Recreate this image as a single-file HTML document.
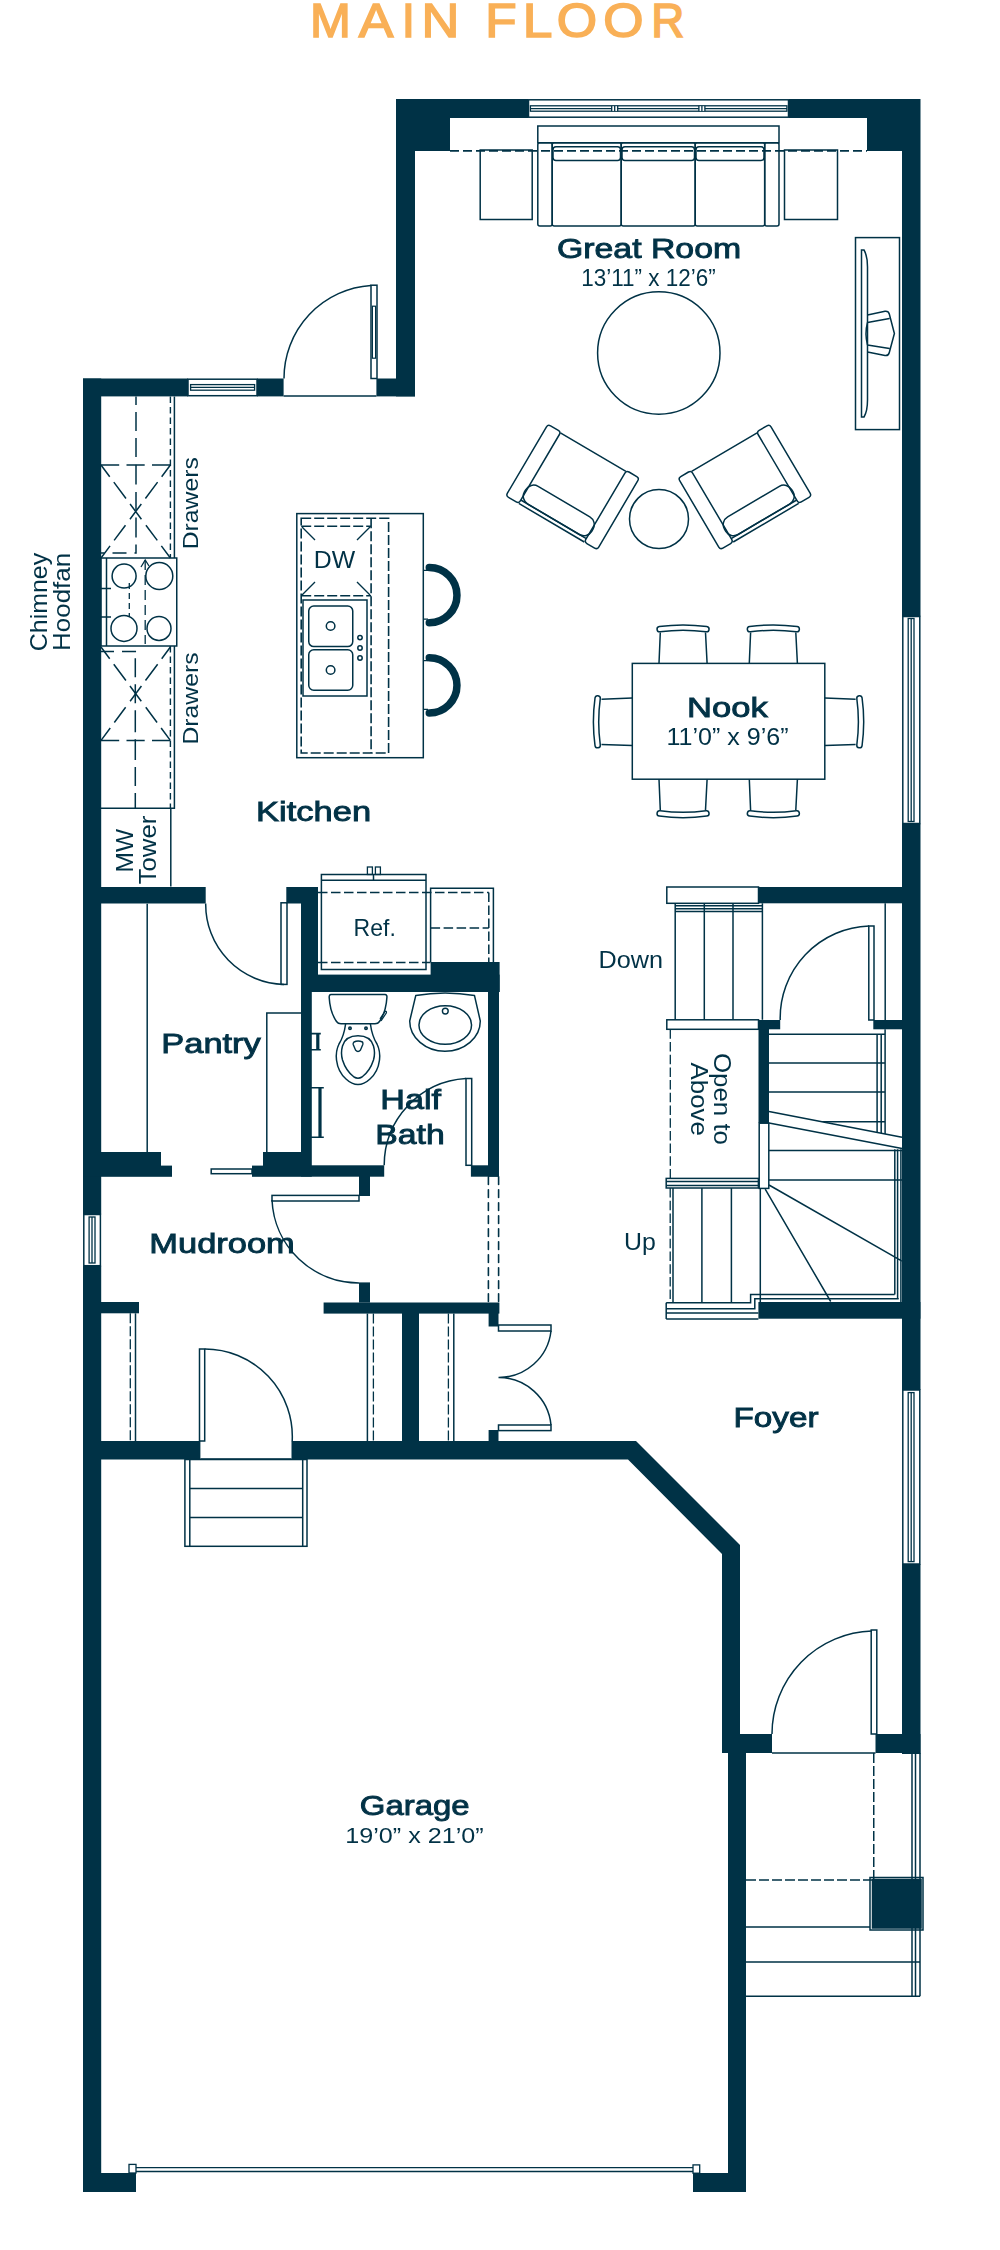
<!DOCTYPE html>
<html><head><meta charset="utf-8"><style>
html,body{margin:0;padding:0;background:#fff;width:1000px;height:2250px;overflow:hidden}
svg{display:block}
text{font-family:"Liberation Sans",sans-serif;fill:#003246}
.b{stroke:#003246;stroke-width:0.9}
.ttl text{fill:#f9b057}
</style></head><body>
<svg width="1000" height="2250" viewBox="0 0 1000 2250">
<g class="ttl" opacity="0.999" style="fill:#f9b057;stroke:#f9b057" stroke-width="1.6" font-size="49" text-anchor="middle"><text transform="translate(330.50,36.8) scale(1.000,1)">M</text><text transform="translate(376.00,36.8) scale(1.059,1)">A</text><text transform="translate(408.40,36.8) scale(0.972,1)">I</text><text transform="translate(440.50,36.8) scale(1.069,1)">N</text><text transform="translate(500.90,36.8) scale(1.048,1)">F</text><text transform="translate(537.50,36.8) scale(1.087,1)">L</text><text transform="translate(577.00,36.8) scale(1.059,1)">O</text><text transform="translate(623.50,36.8) scale(1.057,1)">O</text><text transform="translate(667.75,36.8) scale(0.936,1)">R</text></g>

<!-- WALLS -->
<g id="walls" fill="#003246">
<!-- great room top -->
<rect x="396" y="99" width="132" height="19"/>
<rect x="789" y="99" width="131" height="19"/>
<rect x="396" y="99" width="54" height="52"/>
<rect x="867" y="99" width="53" height="52"/>
<rect x="396" y="99" width="19" height="297.4"/>
<rect x="376.4" y="378.5" width="38.6" height="17.9"/>
<!-- kitchen top wall -->
<rect x="83" y="378.5" width="105" height="17.9"/>
<rect x="257" y="378.5" width="26.6" height="17.9"/>
<!-- left wall -->
<rect x="83" y="378.5" width="18.2" height="836"/>
<rect x="83" y="1265.7" width="18.2" height="926.3"/>
<!-- right wall -->
<rect x="902" y="99" width="18.5" height="517.5"/>
<rect x="902" y="823.5" width="18.5" height="566.5"/>
<rect x="902" y="1564" width="18.5" height="190"/>
<!-- kitchen / pantry wall -->
<rect x="83" y="887" width="122.7" height="16.5"/>
<rect x="286.3" y="887" width="31.7" height="16.5"/>
<rect x="301" y="887" width="17" height="105"/>
<rect x="301" y="974.6" width="198.6" height="17.4"/>
<rect x="430.6" y="962" width="69" height="30"/>
<!-- bath walls -->
<rect x="301" y="990" width="10.8" height="186.7"/>
<rect x="488" y="990" width="11" height="186.7"/>
<rect x="301" y="1165.3" width="83.2" height="11.4"/>
<rect x="470.9" y="1165.3" width="28.1" height="11.4"/>
<!-- pantry bottom -->
<rect x="83" y="1152" width="78" height="24.8"/>
<rect x="161" y="1165.6" width="11" height="11.2"/>
<rect x="263" y="1152" width="38" height="24.8"/>
<rect x="252" y="1165.6" width="11" height="11.2"/>
<!-- stubs -->
<rect x="359" y="1176" width="11" height="20"/>
<rect x="359" y="1282.4" width="11" height="20.2"/>
<!-- mudroom lower walls -->
<rect x="101" y="1302" width="38" height="11.3"/>
<rect x="323.6" y="1302.5" width="175.8" height="11.1"/>
<rect x="402" y="1313" width="17" height="128.5"/>
<rect x="488.6" y="1313" width="9.9" height="13.5"/>
<rect x="488.6" y="1430" width="9.9" height="11.5"/>
<!-- garage -->
<rect x="83" y="1441" width="117.4" height="18.5"/>
<polygon points="291.5,1441 636,1441 740,1545 740,1734 772,1734 772,1753 746,1753 746,2192 693,2192 693,2173 728,2173 728,1753 722,1753 722,1554 628,1459.5 291.5,1459.5"/>
<rect x="83" y="2173" width="53" height="19"/>
<rect x="875.5" y="1734" width="45" height="19"/>
<!-- stair walls -->
<rect x="758.5" y="887" width="144" height="16.3"/>
<rect x="758.5" y="1020" width="10.5" height="103"/>
<rect x="758.5" y="1020" width="21.7" height="9.3"/>
<rect x="873.3" y="1020" width="29" height="9.3"/>
<rect x="758.4" y="1302" width="162" height="16.7"/>
</g>

<g id="lines" fill="none" stroke="#003246" stroke-width="1.5">

<!-- great room top window -->
<rect x="528.5" y="99.8" width="260" height="17.4"/>
<rect x="530.4" y="105.8" width="256.5" height="5.4" stroke-width="1.3"/><path d="M530.4 108.6H787" stroke-width="1.3"/><rect x="611.7" y="106.4" width="6" height="4.4" fill="#fff" stroke="none"/><rect x="698.9" y="106.4" width="6" height="4.4" fill="#fff" stroke="none"/><path d="M611.7 105.8v5.4M614.7 105.8v5.4M617.7 105.8v5.4M698.9 105.8v5.4M701.9 105.8v5.4M704.9 105.8v5.4" stroke-width="1.3"/>

<!-- dashed line -->
<path d="M450 150.8H867" stroke-dasharray="9 4" stroke-width="1.8"/>
<!-- end tables -->
<rect x="480.2" y="150" width="52" height="69.5"/>
<rect x="784.5" y="150" width="53" height="69.5"/>
<!-- sofa -->
<rect x="537.8" y="126" width="241.2" height="16.8"/>
<rect x="537.8" y="142.8" width="14.4" height="83.2" rx="2"/>
<rect x="552.2" y="142.8" width="69" height="83.2" rx="2"/>
<rect x="621.2" y="142.8" width="74" height="83.2" rx="2"/>
<rect x="695.2" y="142.8" width="69.5" height="83.2" rx="2"/>
<rect x="764.7" y="142.8" width="14.3" height="83.2" rx="2"/>
<rect x="553" y="146.8" width="67.5" height="13.7" rx="3"/>
<rect x="622" y="146.8" width="72.5" height="13.7" rx="3"/>
<rect x="696" y="146.8" width="68" height="13.7" rx="3"/>
<!-- coffee table -->
<circle cx="658.8" cy="353" r="61.2"/>
<circle cx="659" cy="519" r="29.5"/>
<!-- TV console -->
<rect x="855.5" y="237.6" width="44" height="192"/>
<path d="M861.5 250V417H864C867 412 867.5 405 867.5 400V267C867.5 262 867 255 864 250Z"/>
<path d="M867.5 315L885 311.2Q888.5 310.8 889.3 314L894.4 333.5L889.3 352.5Q888.5 356 885 355.5L867.5 352M867.5 322.5L889.5 318.5M867.5 345L889.5 348.5M867.5 322.5Q864.5 333.5 867.5 345"/>
<!-- armchairs -->
<g id="chair" transform="translate(548,424.3) rotate(30.5)">
<rect x="0" y="0" width="15" height="83" rx="3"/>
<rect x="91" y="0" width="15" height="83" rx="3"/>
<path d="M15 1H91M15 83H91M15 79H91"/>
<rect x="14" y="58.5" width="78" height="20.5" rx="9"/>
</g>
<g transform="translate(1317.5,0) scale(-1,1)">
<g transform="translate(548,424.3) rotate(30.5)">
<rect x="0" y="0" width="15" height="83" rx="3"/>
<rect x="91" y="0" width="15" height="83" rx="3"/>
<path d="M15 1H91M15 83H91M15 79H91"/>
<rect x="14" y="58.5" width="78" height="20.5" rx="9"/>
</g></g>
<!-- great room ext door -->
<rect x="371" y="285.2" width="6" height="93.3"/>
<rect x="372.4" y="306.2" width="3.2" height="52" stroke-width="1.2"/>
<path d="M284 378.5A93 93 0 0 1 371 285.5"/>
<path d="M283.6 396H376.4"/>

<!-- kitchen upper counter -->
<path d="M174.4 396.4V558M174.4 646V808.3H101"/>
<path d="M170.4 396.4V558M170.4 646V808.3" stroke-dasharray="6.5 4" stroke-width="1.4"/>
<path d="M136 396.4V464.3" stroke-dasharray="19 7" stroke-dashoffset="10.4"/>
<path d="M136 465V553H101" stroke-dasharray="19.5 7.5 18 7.5 20 7 10 8 14 8 13"/>
<path d="M101 465H170.4" stroke-dasharray="18.2 7.3"/>
<path d="M101 465L170.4 558M170.4 465L101 558" stroke-dasharray="14.6 6.8 20.4 6.8 19 7.5 19 6.8 15.1"/>
<!-- stove -->
<rect x="101" y="558" width="75.75" height="88"/>
<path d="M106.5 558V646"/>
<circle cx="124.1" cy="576.1" r="12"/>
<circle cx="159.3" cy="576" r="13.5"/>
<circle cx="124" cy="628.4" r="13"/>
<circle cx="159" cy="628.4" r="12"/>
<path d="M129.3 583V617" stroke-dasharray="6 4" stroke-width="1.3"/><path d="M145.2 560V644" stroke-dasharray="10 5" stroke-width="1.3"/><path d="M141 567L145.2 560L149 566" stroke-width="1.3"/>
<path d="M101 588.5H111M101 617H111" stroke-width="1.3"/>
<!-- lower counter -->
<path d="M101 651.5H135.3V740" stroke-dasharray="13 8 14 6 19 7 19 7 22 7 20"/>
<path d="M135.3 741V808.3" stroke-dasharray="19 7" stroke-dashoffset="0"/>
<path d="M101 740.5H170.4" stroke-dasharray="18.2 7.3"/>
<path d="M101 647L170.4 740.5M170.4 647L101 740.5" stroke-dasharray="14.6 6.8 20.4 6.8 19 7.5 19 6.8 15.1"/>
<!-- MW tower -->
<path d="M170.8 808.3V886.4"/>
<!-- island -->
<rect x="296.8" y="513.6" width="126.5" height="244.1"/>
<rect x="301.2" y="518.3" width="87.4" height="234.7" stroke-dasharray="10 3" stroke-width="1.6"/>
<path d="M371.1 518.3V753M301.2 526.3H371.1M301.2 595.8H371.1" stroke-dasharray="10 3" stroke-width="1.6"/>
<path d="M302 527L315 540M370 527L357 540M302 595L315 582M370 595L357 582" stroke-width="1.4"/>
<rect x="303" y="600" width="64" height="96"/>
<rect x="308.75" y="606" width="44" height="40.6" rx="5"/>
<rect x="308.75" y="649.8" width="44" height="40.5" rx="5"/>
<circle cx="330.6" cy="626" r="4.3"/>
<circle cx="330.6" cy="670" r="4.3"/>
<circle cx="360" cy="637.6" r="2.2"/>
<circle cx="360" cy="648" r="2.2"/>
<circle cx="360" cy="658" r="2.2"/>
<!-- stools -->
<path d="M429.3 567.45A27.7 27.7 0 0 1 429.3 622.85M429.3 657.65A27.7 27.7 0 0 1 429.3 713.05" stroke-width="7.5" stroke-linecap="round"/>
<path d="M423 570.4H428M423 619.2H428M423 660.6H428M423 709.4H428" stroke-width="1.2"/>

<!-- fridge -->
<rect x="321.4" y="874.5" width="104.6" height="95"/>
<path d="M321.4 880.3H426M373.5 874.5V880.3"/>
<rect x="367.4" y="867" width="5" height="7.5" stroke-width="1.3"/>
<rect x="375.4" y="867" width="5" height="7.5" stroke-width="1.3"/>
<path d="M318 892.5H488.8M318 962.4H430.6M430.6 928H488.8M488.8 892.5V962" stroke-dasharray="9.5 3.5"/>
<path d="M430.6 962V888.3H493.4V962"/>
<!-- pantry -->
<rect x="281" y="902.8" width="6" height="81.6"/>
<path d="M205.7 903.5A80 80 0 0 0 284 984.4"/>
<path d="M147.2 903.8V1152"/>
<path d="M266.8 1152V1013H301"/>
<rect x="211.2" y="1169" width="40.8" height="4.7"/>
<!-- half bath -->
<rect x="466" y="1078.5" width="5.7" height="86.8"/>
<path d="M384.2 1165.3A87 87 0 0 1 466 1078.5"/>
<path d="M331 994.6H385Q387.2 994.6 386.9 997.5Q386 1012 379.5 1021.5Q378 1023.8 375 1023.8H341Q338 1023.8 336.5 1021.5Q330 1012 329.2 997.5Q329 994.6 331 994.6Z"/>
<path d="M381 1020.8L386.3 1013Q386.8 1011.2 385.3 1011.2L380 1018.8" stroke-width="1.3"/>
<path d="M345.6 1024Q344 1036 339 1044Q335.5 1051 336.5 1060Q338 1072 346 1079Q352 1084.6 358 1084.6Q364 1084.6 370 1079Q378 1072 379.5 1060Q380.5 1051 377 1044Q372 1036 370.4 1024"/>
<path d="M358 1035.8Q370.5 1035.8 373.5 1046Q375.5 1053 373.5 1060Q370 1071 362 1077Q358 1079.5 354 1077Q346 1071 342.5 1060Q340.5 1053 342.5 1046Q345.5 1035.8 358 1035.8Z"/>
<path d="M354 1042Q358 1040 362.5 1042Q363.2 1043 362.8 1044.5L360.5 1050Q358 1053 355.5 1050L353.2 1044.5Q352.8 1043 354 1042Z" stroke-width="1.4"/>
<circle cx="350" cy="1028.2" r="1.2" stroke-width="1.6"/>
<circle cx="366" cy="1028.2" r="1.2" stroke-width="1.6"/>
<path d="M415.75 995.6Q445 990.5 474.5 995.6L480.3 1021A35.3 30.2 0 0 1 409.7 1021Z"/>
<ellipse cx="445.25" cy="1025" rx="26.3" ry="19.35"/>
<circle cx="445.3" cy="1011.1" r="2.9" stroke-width="1.4"/>
<path d="M311 1033.6H320.8M311 1049.7H320.8M317.8 1033.6V1049.7M311 1087.8H323.8M311 1137.2H323.8M320 1087.8V1137.2" stroke-width="1.6"/><path d="M317.8 1034V1049.5M320 1088V1137" stroke-width="3.2"/>

<path d="M488.4 1176.7V1302.5M498.6 1176.7V1302.5" stroke-dasharray="7.7 5.3" stroke-width="1.6" stroke-linecap="round"/>
<!-- mudroom -->
<rect x="83.8" y="1214.5" width="16.6" height="51.2"/>
<rect x="89.1" y="1217" width="5.9" height="46" stroke-width="1.3"/><path d="M92 1217V1263" stroke-width="1.3"/>
<rect x="272" y="1195.4" width="87" height="5.6"/>
<path d="M272 1200A87 87 0 0 0 359 1283"/>
<path d="M135.5 1313.3V1441.2"/>
<path d="M130.3 1313.3V1441.2" stroke-dasharray="10 3" stroke-width="1.3"/>
<rect x="199.5" y="1349" width="5.2" height="92"/>
<path d="M204.7 1349A87.5 87.5 0 0 1 292.2 1441.2"/>
<path d="M200.4 1459H291.5"/>
<!-- closets -->
<path d="M367.4 1313.6V1441M453.8 1313.6V1441"/>
<path d="M373.4 1313.6V1441M448.4 1313.6V1441" stroke-dasharray="10 3" stroke-width="1.3"/>
<rect x="498.5" y="1325" width="52.5" height="6"/>
<rect x="498.5" y="1425" width="52.5" height="5.6"/>
<path d="M551 1331A52.5 52.5 0 0 1 498.5 1377.5A52.5 52.5 0 0 1 551 1425"/>
<!-- garage steps -->
<rect x="184.9" y="1459.5" width="122.1" height="86.8"/>
<path d="M189.8 1459.5V1546.3M302.7 1459.5V1546.3M189.8 1488.5H302.7M189.8 1517.6H302.7"/>
<!-- garage door -->
<rect x="129" y="2164.4" width="7" height="8.6" stroke-width="1.3"/>
<rect x="693" y="2164.9" width="6.7" height="8.3" stroke-width="1.3"/>
<path d="M136 2167.6H693M136 2171.5H693" stroke-width="1.3"/>
<!-- foyer -->
<rect x="871.2" y="1630" width="5.6" height="104"/>
<path d="M772 1734A103 103 0 0 1 872 1631"/>
<path d="M772 1753H875.5"/>
<!-- windows right -->
<rect x="902.8" y="616.5" width="17" height="207"/>
<rect x="908.2" y="618.5" width="5.8" height="203" stroke-width="1.3"/><path d="M911.2 618.5V821.5" stroke-width="1.3"/>
<rect x="902.8" y="1390" width="17" height="174"/>
<rect x="908.2" y="1392.6" width="5.8" height="169" stroke-width="1.3"/><path d="M911.2 1392.6V1561.6" stroke-width="1.3"/>
<!-- porch -->
<path d="M912 1753V1996.2M915.5 1753V1996.2M920 1753V1996.2M746 1927H870M746 1962H920M746 1996.2H920"/>
<path d="M873.75 1753V1880M746 1880H873.75" stroke-dasharray="10 3"/>
<rect x="870" y="1877.5" width="53" height="52.5"/>
<rect x="872.5" y="1879.5" width="48.5" height="48.5" fill="#003246"/>
<!-- nook table -->
<rect x="632.3" y="663.4" width="192.5" height="115.8"/>
<g><path d="M660.3 632.5L659.0 663.4M705.5 632.5L707.1 663.4"/><path d="M659.7 629.2Q683.0 626 706.4 629.2" stroke-width="6.8" stroke-linecap="round"/><path d="M659.7 629.2Q683.0 626 706.4 629.2" stroke="#fff" stroke-width="3.8" stroke-linecap="round"/><path d="M750.6 632.5L749.3 663.4M795.8 632.5L797.4 663.4"/><path d="M750.0 629.2Q773.3 626 796.7 629.2" stroke-width="6.8" stroke-linecap="round"/><path d="M750.0 629.2Q773.3 626 796.7 629.2" stroke="#fff" stroke-width="3.8" stroke-linecap="round"/></g><g transform="translate(0,1442.6) scale(1,-1)"><path d="M660.3 632.5L659.0 663.4M705.5 632.5L707.1 663.4"/><path d="M659.7 629.2Q683.0 626 706.4 629.2" stroke-width="6.8" stroke-linecap="round"/><path d="M659.7 629.2Q683.0 626 706.4 629.2" stroke="#fff" stroke-width="3.8" stroke-linecap="round"/><path d="M750.6 632.5L749.3 663.4M795.8 632.5L797.4 663.4"/><path d="M750.0 629.2Q773.3 626 796.7 629.2" stroke-width="6.8" stroke-linecap="round"/><path d="M750.0 629.2Q773.3 626 796.7 629.2" stroke="#fff" stroke-width="3.8" stroke-linecap="round"/></g><path d="M601.5 699.3L632.3 698M601.5 744.6L632.3 745.6"/><path d="M597.65 698.3Q594.45 721.75 597.65 745.2" stroke-width="6.8" stroke-linecap="round"/><path d="M597.65 698.3Q594.45 721.75 597.65 745.2" stroke="#fff" stroke-width="3.8" stroke-linecap="round"/><g transform="translate(1457.1,0) scale(-1,1)"><path d="M601.5 699.3L632.3 698M601.5 744.6L632.3 745.6"/><path d="M597.65 698.3Q594.45 721.75 597.65 745.2" stroke-width="6.8" stroke-linecap="round"/><path d="M597.65 698.3Q594.45 721.75 597.65 745.2" stroke="#fff" stroke-width="3.8" stroke-linecap="round"/></g>
<!-- stairs top -->
<rect x="666.8" y="887" width="91.7" height="16.3"/>
<path d="M675.2 903.3V1019.8M704.3 903.3V1019.8M733 903.3V1019.8M762.4 903.3V1019.8M675.2 905.8H762.4M675.2 908.8H762.4M675.2 911.4H762.4" />
<rect x="666.8" y="1019.8" width="91.7" height="9.5"/>
<rect x="868.8" y="926" width="5.2" height="94"/>
<path d="M780.2 1020A92 92 0 0 1 869 926"/>
<path d="M885.2 903.3V1020"/>
<path d="M670.3 1029.3V1178.4" stroke-dasharray="9.5 3.2" stroke-width="1.3"/>
<!-- upper flight -->
<path d="M769 1034.2H885.1M769 1063H885.1M769 1092H885.1M769 1121.7H885.1M877.1 1034.2V1135M881.2 1034.2V1135M885.1 1029.3V1136"/>
<polygon points="769,1111.5 902,1137.3 902,1148.4 769,1122.9" fill="#fff" stroke="none"/>
<path d="M769 1111.5L902 1137.3M769 1122.9L902 1148.4"/>
<rect x="759.2" y="1123.2" width="9.6" height="65.2" fill="#fff"/>
<path d="M769 1150.4H902M769 1180H902M769 1185L902 1261.2M765.2 1189.2L830.7 1301.5M894.8 1149.3V1294.6M897.6 1149.3V1298.7M900.9 1149.3V1302"/>
<!-- lower flight -->
<rect x="666.2" y="1178.4" width="92.2" height="9.6"/>
<path d="M666.2 1181.4H758.4M666.2 1185.4H758.4"/>
<path d="M673 1188V1302.7M701.9 1188V1302.7M731.4 1188V1302.7M760.3 1188V1302.7"/>
<path d="M670.2 1188V1302.7" stroke-dasharray="9.5 3.2" stroke-width="1.3"/>
<path d="M666.2 1302.7H750.6V1294.6H894.7M666.2 1308.7H754.8V1298.7H898.7M666.2 1312.9H758.4M666.2 1318.9H758.4M666.2 1302.7V1318.9"/>
<!-- kitchen window -->
<rect x="188" y="379.2" width="69" height="16.5"/>
<rect x="190.6" y="384.6" width="64" height="5.6" stroke-width="1.3"/><path d="M190.6 387.4H254.6" stroke-width="1.3"/>
</g>

<g class="labels" opacity="0.999">
<text class="b" x="557.0" y="257.8" font-size="28" textLength="184.1" lengthAdjust="spacingAndGlyphs">Great Room</text>
<text x="581.3" y="285.6" font-size="23.8" textLength="134.5" lengthAdjust="spacingAndGlyphs">13’11” x 12’6”</text>
<text class="b" x="687.0" y="717.3" font-size="28" textLength="80.7" lengthAdjust="spacingAndGlyphs">Nook</text>
<text x="666.5" y="745" font-size="23.8" textLength="122.1" lengthAdjust="spacingAndGlyphs">11’0” x 9’6”</text>
<text class="b" x="256.0" y="820.8" font-size="28" textLength="115.1" lengthAdjust="spacingAndGlyphs">Kitchen</text>
<text class="b" x="161.3" y="1052.6" font-size="28" textLength="99.5" lengthAdjust="spacingAndGlyphs">Pantry</text>
<text class="b" x="380.3" y="1108.7" font-size="28" textLength="60.7" lengthAdjust="spacingAndGlyphs">Half</text>
<text class="b" x="375.3" y="1143.8" font-size="28" textLength="69.5" lengthAdjust="spacingAndGlyphs">Bath</text>
<text class="b" x="149.3" y="1252.5" font-size="28" textLength="145.5" lengthAdjust="spacingAndGlyphs">Mudroom</text>
<text class="b" x="733.5" y="1427.3" font-size="28" textLength="85.1" lengthAdjust="spacingAndGlyphs">Foyer</text>
<text class="b" x="359.8" y="1815.3" font-size="28" textLength="109.8" lengthAdjust="spacingAndGlyphs">Garage</text>
<text x="345.3" y="1842.9" font-size="22.5" textLength="138.4" lengthAdjust="spacingAndGlyphs">19’0” x 21’0”</text>
<text x="598.6" y="968" font-size="23.8" textLength="64.5" lengthAdjust="spacingAndGlyphs">Down</text>
<text x="624.0" y="1250" font-size="23.8" textLength="31.8" lengthAdjust="spacingAndGlyphs">Up</text>
<text x="353.6" y="935.7" font-size="23.8" textLength="42.2" lengthAdjust="spacingAndGlyphs">Ref.</text>
<text x="313.7" y="567.7" font-size="23.8" textLength="41.4" lengthAdjust="spacingAndGlyphs">DW</text>

<text transform="translate(197.7,549.3) rotate(-90)" font-size="21.8" textLength="92.2" lengthAdjust="spacingAndGlyphs">Drawers</text>
<text transform="translate(197.7,744.6) rotate(-90)" font-size="21.8" textLength="92.2" lengthAdjust="spacingAndGlyphs">Drawers</text>
<text transform="translate(46.6,651.2) rotate(-90)" font-size="24" textLength="98.3" lengthAdjust="spacingAndGlyphs">Chimney</text>
<text transform="translate(70.4,650.9) rotate(-90)" font-size="24" textLength="98.1" lengthAdjust="spacingAndGlyphs">Hoodfan</text>
<text transform="translate(133.3,872.4) rotate(-90)" font-size="24.5" textLength="43.6" lengthAdjust="spacingAndGlyphs">MW</text>
<text transform="translate(156.4,884.3) rotate(-90)" font-size="24.5" textLength="68.6" lengthAdjust="spacingAndGlyphs">Tower</text>
<text transform="translate(714,1053) rotate(90)" font-size="23.7" textLength="92" lengthAdjust="spacingAndGlyphs">Open to</text>
<text transform="translate(691,1062.5) rotate(90)" font-size="23.7" textLength="73.5" lengthAdjust="spacingAndGlyphs">Above</text>
</g>
</svg>
</body></html>
